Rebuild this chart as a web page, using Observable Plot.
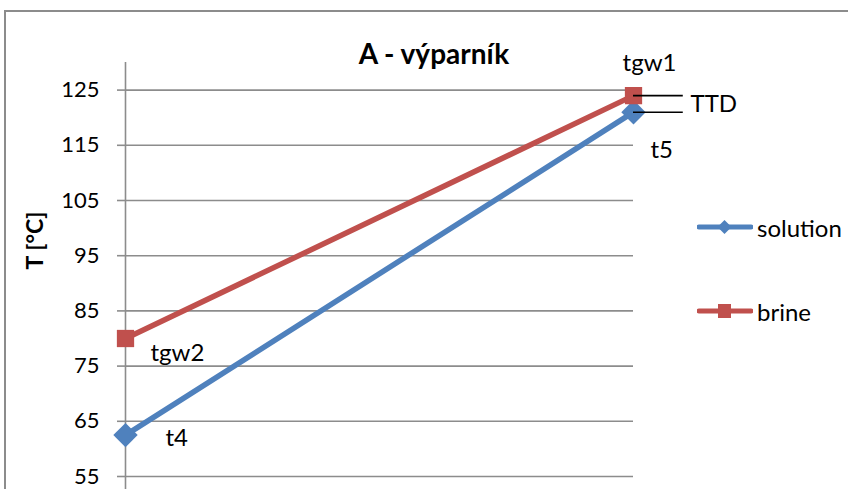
<!DOCTYPE html>
<html><head><meta charset="utf-8">
<script src="https://cdn.jsdelivr.net/npm/d3@7"></script>
<script src="https://cdn.jsdelivr.net/npm/@observablehq/plot@0.6"></script>
<style>
body{margin:0;background:#fff;}
#wrap{position:relative;width:848px;height:489px;overflow:hidden;font-family:Lato,"Open Sans",sans-serif;color:#000;}
#frame{position:absolute;left:4px;top:10px;width:1000px;height:1000px;border-left:2px solid #8c8c8c;border-top:2px solid #8c8c8c;}
#chart{position:absolute;left:0;top:0;}
#title{position:absolute;top:36px;left:0;width:868px;text-align:center;font-weight:bold;font-size:28px;line-height:34px;}
.leg{position:absolute;left:697px;font-size:24px;display:flex;align-items:center;height:30px;}
.leg svg{margin-right:4px;}
</style></head>
<body>
<div id="wrap">
  <div id="frame"></div>
  <div id="chart"></div>
  <div id="title">A - výparník</div>
  <div id="legend"></div>
</div>
<script>
const categories = ["vstup", "výstup"];
const solution = [62.5, 121];
const brine = [80, 124];
const yTicks = [55, 65, 75, 85, 95, 105, 115, 125];
const solutionLabels = ["t4", "t5"];
const brineLabels = ["tgw2", "tgw1"];
const ttdLabel = "TTD";
const seriesNames = ["solution", "brine"];
const colors = {solution: "#4f81bd", brine: "#c0504d"};

const rows = [];
categories.forEach((c, i) => {
  rows.push({series: "solution", i, value: solution[i], label: solutionLabels[i]});
  rows.push({series: "brine", i, value: brine[i], label: brineLabels[i]});
});
const last = categories.length - 1;
const ttdRows = [brine[last], solution[last]];

const gray = "#8c8c8c";
const font = "Lato, 'Open Sans', sans-serif";

const plot = Plot.plot({
  width: 848,
  height: 489,
  marginLeft: 125,
  marginRight: 215,
  marginTop: 62,
  marginBottom: 13,
  style: {fontFamily: font, fontSize: "22px", background: "transparent", overflow: "visible"},
  x: {type: "linear", domain: [0, last], axis: null},
  y: {domain: [55, 130], axis: null},
  marks: [
    Plot.gridY(yTicks, {stroke: gray, strokeOpacity: 1, strokeWidth: 1.6}),
    Plot.ruleX([0], {stroke: gray, strokeWidth: 1.6, insetBottom: -13}),
    Plot.axisY(yTicks, {tickSize: 8, tickPadding: 18, stroke: gray, strokeWidth: 1.6, fontSize: 22, label: null, textStroke: "none"}),
    Plot.text(["T [°C]"], {frameAnchor: "left", dx: -90, rotate: -90, fontWeight: "bold", fontSize: 23}),
    Plot.line(rows, {x: "i", y: "value", z: "series", stroke: d => colors[d.series], strokeWidth: 5.5}),
    Plot.dot(rows.filter(d => d.series === "solution"), {x: "i", y: "value", symbol: "diamond2", r: 11, fill: colors.solution, stroke: "none"}),
    Plot.dot(rows.filter(d => d.series === "brine"), {x: "i", y: "value", symbol: "square2", r: 11, fill: colors.brine, stroke: "none"}),
    Plot.ruleY(ttdRows, {y: d => d, x1: last, x2: last + 0.098, stroke: "#000", strokeWidth: 1.6}),
    Plot.text([ttdRows], {x: last, y: d => (d[0] + d[1]) / 2, text: () => ttdLabel, textAnchor: "start", dx: 57, fontSize: 24}),
    Plot.text(rows.filter(d => d.series === "brine" && d.i === last), {x: "i", y: "value", text: "label", dx: 16, dy: -32, fontSize: 24}),
    Plot.text(rows.filter(d => d.series === "solution" && d.i === last), {x: "i", y: "value", text: "label", textAnchor: "start", dx: 17, dy: 38, fontSize: 24}),
    Plot.text(rows.filter(d => d.series === "brine" && d.i === 0), {x: "i", y: "value", text: "label", textAnchor: "start", dx: 25, dy: 15, fontSize: 24}),
    Plot.text(rows.filter(d => d.series === "solution" && d.i === 0), {x: "i", y: "value", text: "label", textAnchor: "start", dx: 40, dy: 3, fontSize: 24})
  ]
});
document.getElementById("chart").appendChild(plot);

const legend = document.getElementById("legend");
const legTops = {solution: 212, brine: 296};
seriesNames.forEach(name => {
  const div = document.createElement("div");
  div.className = "leg";
  div.style.top = legTops[name] + "px";
  const c = colors[name];
  const marker = name === "solution"
    ? `<path d="M27.5,8 L34.5,15 L27.5,22 L20.5,15 Z" fill="${c}"/>`
    : `<rect x="21" y="8" width="13" height="14" fill="${c}"/>`;
  div.innerHTML = `<svg width="56" height="30"><line x1="2" y1="15" x2="54" y2="15" stroke="${c}" stroke-width="5" stroke-linecap="round"/>${marker}</svg><span>${name}</span>`;
  legend.appendChild(div);
});
</script>
</body></html>
